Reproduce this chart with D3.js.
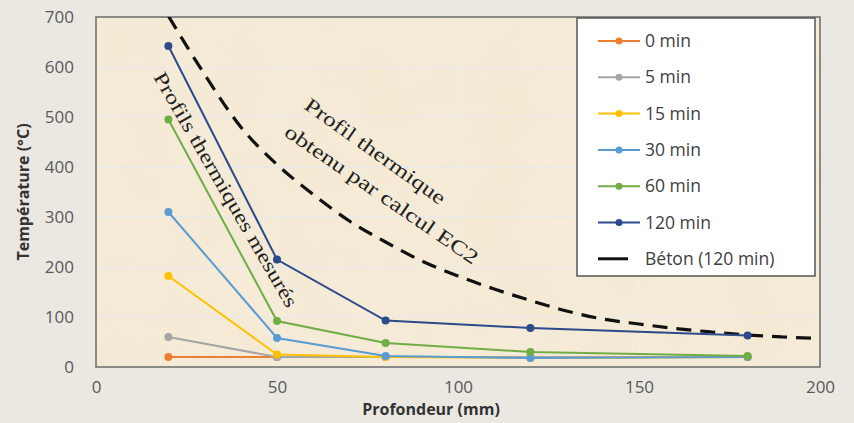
<!DOCTYPE html>
<html>
<head>
<meta charset="utf-8">
<script src="https://cdn.jsdelivr.net/npm/d3@7"></script>
<style>
  body { margin: 0; background: #ebe8e2; }
  svg { display: block; }
</style>
</head>
<body>
<svg id="chart" width="854" height="423"></svg>
<script>
const depths = [20, 50, 80, 120, 180]
const seriesNames = ['0 min', '5 min', '15 min', '30 min', '60 min', '120 min']
const seriesValues = [
  [20, 20, 20, 20, 20],
  [60, 20, 20, 20, 20],
  [182, 25, 20, 18, 20],
  [310, 58, 22, 18, 20],
  [495, 92, 48, 30, 22],
  [642, 215, 93, 78, 63]
]
const seriesColors = ['#ed7d31', '#a5a5a5', '#ffc000', '#5b9bd5', '#70ad47', '#2c4a8c']

const ec2Depths = [20, 30, 40, 50, 60, 70, 80, 90, 100, 110, 120, 130, 140, 150, 160, 170, 180, 190, 200]
const ec2Values = [702, 585, 480, 405, 345, 292, 250, 212, 182, 156, 133, 112, 96, 86, 77, 70, 64, 60, 57]
const ec2Name = 'Béton (120 min)'

const xTicks = [0, 50, 100, 150, 200]
const yTicks = [0, 100, 200, 300, 400, 500, 600, 700]

const svg = d3.select('#chart')
const pL = 96, pR = 820, pT = 17, pB = 367
const sans = 'Open Sans, sans-serif'

const x = d3.scaleLinear().domain([0, 200]).range([pL, pR])
const y = d3.scaleLinear().domain([0, 700]).range([pB, pT])

// parchment background
const defs = svg.append('defs')
const filt = defs.append('filter').attr('id', 'paper').attr('x', 0).attr('y', 0).attr('width', '100%').attr('height', '100%')
filt.append('feTurbulence').attr('type', 'fractalNoise').attr('baseFrequency', 0.015).attr('numOctaves', 3).attr('seed', 4).attr('result', 'n')
filt.append('feColorMatrix').attr('in', 'n').attr('type', 'matrix')
  .attr('values', '0 0 0 0 0.86  0 0 0 0 0.76  0 0 0 0 0.58  0 0 0 0.3 0').attr('result', 'c')
filt.append('feComposite').attr('in', 'c').attr('in2', 'SourceGraphic').attr('operator', 'in')
defs.append('clipPath').attr('id', 'plotclip').append('rect')
  .attr('x', pL).attr('y', pT).attr('width', pR - pL).attr('height', pB - pT)

svg.append('rect').attr('x', pL).attr('y', pT).attr('width', pR - pL).attr('height', pB - pT)
  .attr('fill', '#f6ecd8')
svg.append('rect').attr('x', pL).attr('y', pT).attr('width', pR - pL).attr('height', pB - pT)
  .attr('fill', '#f6ecd8').attr('filter', 'url(#paper)')

// grid
svg.append('g').selectAll('line').data(yTicks.slice(1, -1)).join('line')
  .attr('x1', pL).attr('x2', pR).attr('y1', d => y(d)).attr('y2', d => y(d))
  .attr('stroke', '#e6e8ef').attr('stroke-width', 1.2)
svg.append('g').selectAll('line').data(xTicks.slice(1, -1)).join('line')
  .attr('y1', pT).attr('y2', pB).attr('x1', d => x(d)).attr('x2', d => x(d))
  .attr('stroke', '#f2eee8').attr('stroke-width', 1.2)

// axes
const xAxis = svg.append('g').attr('transform', `translate(0,${pB})`)
  .call(d3.axisBottom(x).tickValues(xTicks).tickSize(0).tickPadding(14))
const yAxis = svg.append('g').attr('transform', `translate(${pL},0)`)
  .call(d3.axisLeft(y).tickValues(yTicks).tickSize(0).tickPadding(22))
;[xAxis, yAxis].forEach(a => {
  a.select('.domain').remove()
  a.selectAll('text').attr('fill', '#595959').style('font-family', sans).style('font-size', '17px')
})

svg.append('rect').attr('x', pL).attr('y', pT).attr('width', pR - pL).attr('height', pB - pT)
  .attr('fill', 'none').attr('stroke', '#6b6b6b').attr('stroke-width', 1.5)

svg.append('text').attr('x', 431).attr('y', 415).attr('text-anchor', 'middle')
  .style('font-family', sans).style('font-size', '16px').style('font-weight', 'bold')
  .attr('fill', '#333').text('Profondeur (mm)')
svg.append('text').attr('transform', 'translate(29,192) rotate(-90)').attr('text-anchor', 'middle')
  .style('font-family', sans).style('font-size', '16px').style('font-weight', 'bold')
  .attr('fill', '#333').text('Température (°C)')

// series
const plot = svg.append('g').attr('clip-path', 'url(#plotclip)')
const line = d3.line().x((d, i) => x(depths[i])).y(d => y(d))

plot.append('path').datum(ec2Values)
  .attr('d', d3.line().curve(d3.curveMonotoneX).x((d, i) => x(ec2Depths[i])).y(d => y(d)))
  .attr('fill', 'none').attr('stroke', '#111').attr('stroke-width', 3.2).attr('stroke-dasharray', '15,9')

seriesValues.forEach((vals, s) => {
  const g = svg.append('g')
  g.append('path').datum(vals).attr('d', line)
    .attr('fill', 'none').attr('stroke', seriesColors[s]).attr('stroke-width', 2)
  g.selectAll('circle').data(vals).join('circle')
    .attr('cx', (d, i) => x(depths[i])).attr('cy', d => y(d)).attr('r', 4)
    .attr('fill', seriesColors[s])
})

// annotations
const serif = 'Liberation Serif, Times New Roman, serif'
svg.append('text').attr('transform', 'translate(153,77) rotate(60)')
  .style('font-family', serif).style('font-size', '20px').attr('fill', '#222')
  .attr('textLength', 268).attr('lengthAdjust', 'spacingAndGlyphs')
  .text('Profils thermiques mesurés')
svg.append('text').attr('transform', 'translate(303,108) rotate(35.5)')
  .style('font-family', serif).style('font-size', '20px').attr('fill', '#222')
  .attr('textLength', 168).attr('lengthAdjust', 'spacingAndGlyphs')
  .text('Profil thermique')
svg.append('text').attr('transform', 'translate(283,135) rotate(34.4)')
  .style('font-family', serif).style('font-size', '20px').attr('fill', '#222')
  .attr('textLength', 230).attr('lengthAdjust', 'spacingAndGlyphs')
  .text('obtenu par calcul EC2')

// legend
const lg = svg.append('g')
lg.append('rect').attr('x', 577).attr('y', 18).attr('width', 238).attr('height', 258)
  .attr('fill', '#fff').attr('stroke', '#555').attr('stroke-width', 1.5)
const legendRows = seriesNames.map((n, i) => ({ name: n, color: seriesColors[i], dash: false }))
legendRows.push({ name: ec2Name, color: '#111', dash: true })
legendRows.forEach((r, i) => {
  const yy = 41 + i * 36.3
  if (r.dash) {
    lg.append('line').attr('x1', 598).attr('x2', 628).attr('y1', yy).attr('y2', yy)
      .attr('stroke', r.color).attr('stroke-width', 3)
  } else {
    lg.append('line').attr('x1', 598).attr('x2', 640).attr('y1', yy).attr('y2', yy)
      .attr('stroke', r.color).attr('stroke-width', 2)
    lg.append('circle').attr('cx', 619).attr('cy', yy).attr('r', 3.5).attr('fill', r.color)
  }
  lg.append('text').attr('x', 645).attr('y', yy + 6)
    .style('font-family', sans).style('font-size', '17.5px').attr('fill', '#404040')
    .text(r.name)
})
</script>
</body>
</html>
